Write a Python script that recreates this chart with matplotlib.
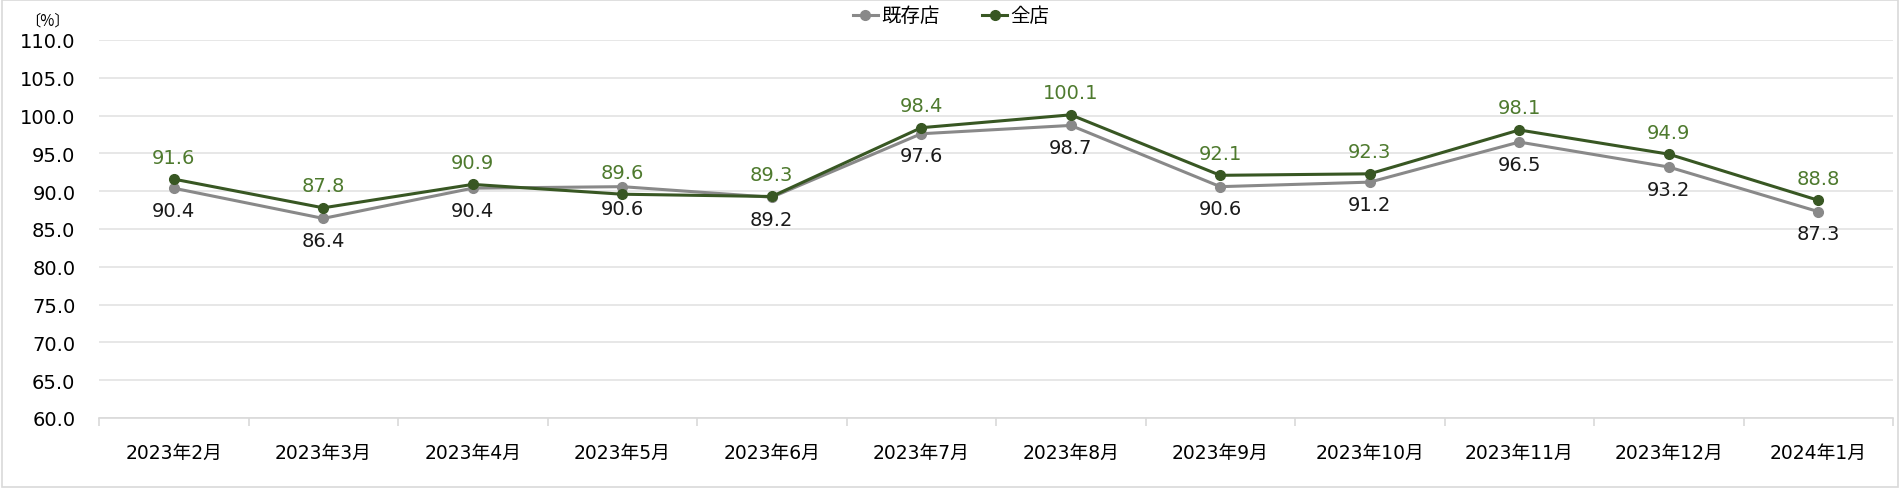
import matplotlib.pyplot as plt
from matplotlib.patches import Rectangle

plt.rcParams['font.family'] = ['DejaVu Sans', 'Noto Sans CJK JP']

months = ['2023年2月', '2023年3月', '2023年4月', '2023年5月', '2023年6月', '2023年7月',
          '2023年8月', '2023年9月', '2023年10月', '2023年11月', '2023年12月', '2024年1月']
existing = [90.4, 86.4, 90.4, 90.6, 89.2, 97.6, 98.7, 90.6, 91.2, 96.5, 93.2, 87.3]
all_stores = [91.6, 87.8, 90.9, 89.6, 89.3, 98.4, 100.1, 92.1, 92.3, 98.1, 94.9, 88.8]
yticks = [60, 65, 70, 75, 80, 85, 90, 95, 100, 105, 110]

gray = '#898989'
green = '#385723'
green_lbl = '#4e7a2e'

fig = plt.figure(figsize=(19, 4.89), dpi=100)
ax = fig.add_axes([99 / 1900, 1 - 419 / 489, 1794 / 1900, 378 / 489])

x = list(range(len(months)))
ax.plot(x, existing, color=gray, lw=2.2, marker='o', ms=7, label='既存店', zorder=3)
ax.plot(x, all_stores, color=green, lw=2.2, marker='o', ms=7, label='全店', zorder=4)

for i in x:
    ax.annotate(f'{existing[i]:.1f}', (i, existing[i]), xytext=(0, -9), textcoords='offset points',
                ha='center', va='top', fontsize=14, color='#1a1a1a')
    ax.annotate(f'{all_stores[i]:.1f}', (i, all_stores[i]), xytext=(0, 9), textcoords='offset points',
                ha='center', va='bottom', fontsize=14, color=green_lbl)

ax.set_xlim(-0.5, len(months) - 0.5)
ax.set_ylim(60, 110)
ax.set_yticks(yticks)
ax.set_yticklabels([f'{v:.1f}' for v in yticks], fontsize=14)
ax.set_xticks(x)
ax.set_xticklabels(months, fontsize=13.5)
ax.set_xticks([i - 0.5 for i in range(len(months) + 1)], minor=True)
ax.tick_params(axis='x', which='major', length=0, pad=18)
ax.tick_params(axis='x', which='minor', length=6, color='#d9d9d9', width=1.2)
ax.tick_params(axis='y', length=0, pad=17)
ax.grid(axis='y', color='#e3e3e3', lw=1.2)
ax.set_axisbelow(True)
for s in ['top', 'right', 'left']:
    ax.spines[s].set_visible(False)
ax.spines['bottom'].set_color('#d9d9d9')
ax.spines['bottom'].set_linewidth(1.2)

fig.text(47 / 1900, 1 - 21 / 489, '〔%〕', ha='center', va='center', fontsize=11,
         family=['Noto Sans CJK JP', 'DejaVu Sans'])

fig.legend(loc='center', bbox_to_anchor=(951 / 1900, 1 - 17 / 489), ncol=2, frameon=False,
           fontsize=14, handlelength=1.3, handletextpad=0.15, columnspacing=2.2)

fig.patches.append(Rectangle((0.001, 0.002), 0.998, 0.996, transform=fig.transFigure,
                             fill=False, edgecolor='#d9d9d9', lw=1.2))

plt.savefig('out.png', dpi=100)
